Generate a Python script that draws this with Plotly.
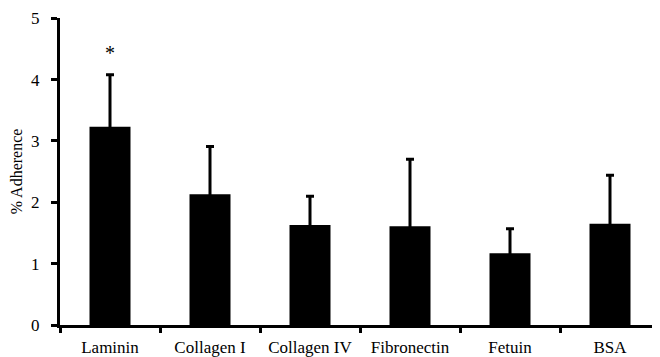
import plotly.graph_objects as go

categories = ["Laminin", "Collagen I", "Collagen IV", "Fibronectin", "Fetuin", "BSA"]
adherence = [3.23, 2.13, 1.63, 1.61, 1.17, 1.65]
err_upper = [0.85, 0.78, 0.47, 1.09, 0.40, 0.79]
y_ticks = [0, 1, 2, 3, 4, 5]
sig_label = "*"

font_family = "Liberation Serif, Times New Roman, serif"

fig = go.Figure()
fig.add_trace(go.Bar(
    x=categories,
    y=adherence,
    width=0.41,
    marker=dict(color="black", line=dict(width=0)),
    error_y=dict(type="data", symmetric=True, array=err_upper,
                 color="black", thickness=3, width=4),
))

fig.add_annotation(x=categories[0], y=adherence[0] + err_upper[0] + 0.35,
                   text=sig_label, showarrow=False, yanchor="middle",
                   font=dict(family=font_family, size=20, color="black"))

fig.update_layout(
    width=652, height=349,
    margin=dict(l=52, r=0, t=10, b=32),
    paper_bgcolor="white", plot_bgcolor="white",
    showlegend=False,
    font=dict(family=font_family, size=16, color="black"),
)
fig.update_xaxes(
    type="category", tickson="boundaries",
    showline=True, linecolor="black", linewidth=3,
    ticks="outside", ticklen=5, tickwidth=3, tickcolor="black",
    showgrid=False, zeroline=False, automargin=False,
    ticklabelstandoff=5,
    tickfont=dict(family=font_family, size=17, color="black"),
)
fig.update_yaxes(
    range=[0, 5.003], tickvals=y_ticks,
    showline=True, linecolor="black", linewidth=3,
    ticks="outside", ticklen=6, tickwidth=3, tickcolor="black",
    showgrid=False, zeroline=False, automargin=False,
    ticklabelstandoff=8, ticklabeloverflow="allow",
    tickfont=dict(family=font_family, size=17, color="black"),
    title=dict(text="% Adherence", font=dict(family=font_family, size=16, color="black"), standoff=11),
)

fig.write_html("out.html")
